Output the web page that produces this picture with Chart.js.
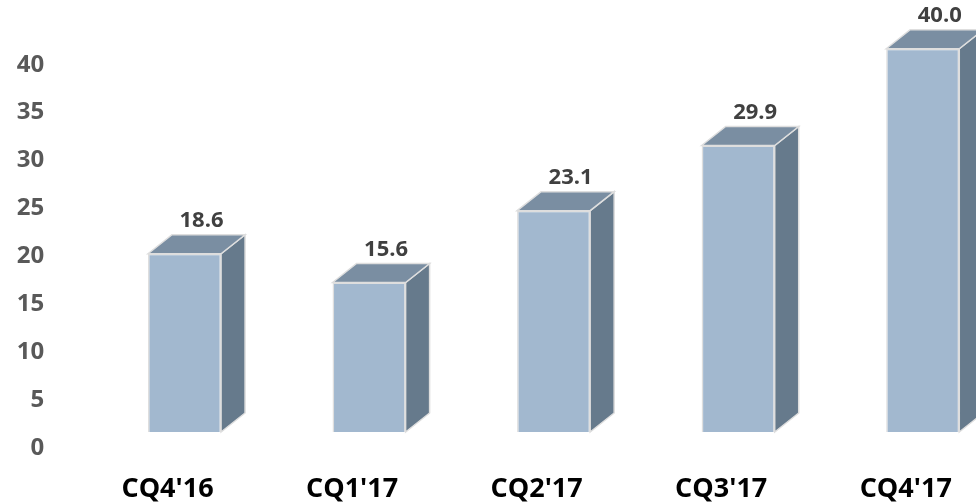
<!DOCTYPE html>
<html>
<head>
<meta charset="utf-8">
<script src="https://cdn.jsdelivr.net/npm/chart.js@4/dist/chart.umd.min.js"></script>
<style>
  html, body { margin: 0; padding: 0; background: #fff; overflow: hidden; }
  #wrap { width: 976px; height: 503px; overflow: hidden; }
</style>
</head>
<body>
<div id="wrap">
  <canvas id="chart" width="1016" height="503"></canvas>
</div>
<script>
// 四半期ごとの値
const quarters = ["CQ4'16", "CQ1'17", "CQ2'17", "CQ3'17", "CQ4'17"];
const values = [18.6, 15.6, 23.1, 29.9, 40.0];
const yTicks = [0, 5, 10, 15, 20, 25, 30, 35, 40];

// 立体の奥行き
const DEPTH_X = 24;
const DEPTH_Y = -19;

const FRONT = '#a2b8cf';
const TOP = '#7a8ea2';
const SIDE = '#667a8c';
const EDGE = '#dedede';

// 側面・上面と値ラベルを描く
const box3d = {
    id: 'box3d',
    beforeDatasetsDraw(chart) {
        const ctx = chart.ctx;
        const meta = chart.getDatasetMeta(0);
        ctx.save();
        ctx.lineWidth = 1.5;
        ctx.strokeStyle = EDGE;
        meta.data.forEach(bar => {
            const { x, y, base, width } = bar.getProps(['x', 'y', 'base', 'width'], true);
            const l = x - width / 2;
            const r = x + width / 2;

            // 側面
            ctx.beginPath();
            ctx.moveTo(r, y);
            ctx.lineTo(r + DEPTH_X, y + DEPTH_Y);
            ctx.lineTo(r + DEPTH_X, base + DEPTH_Y);
            ctx.lineTo(r, base);
            ctx.closePath();
            ctx.fillStyle = SIDE;
            ctx.fill();
            ctx.stroke();

            // 上面
            ctx.beginPath();
            ctx.moveTo(l, y);
            ctx.lineTo(l + DEPTH_X, y + DEPTH_Y);
            ctx.lineTo(r + DEPTH_X, y + DEPTH_Y);
            ctx.lineTo(r, y);
            ctx.closePath();
            ctx.fillStyle = TOP;
            ctx.fill();
            ctx.stroke();
        });
        ctx.restore();
    },
    afterDatasetsDraw(chart) {
        const ctx = chart.ctx;
        const meta = chart.getDatasetMeta(0);
        ctx.save();
        ctx.font = 'bold 22px "Open Sans"';
        ctx.fillStyle = '#404040';
        ctx.textAlign = 'center';
        ctx.textBaseline = 'alphabetic';
        meta.data.forEach((bar, i) => {
            const { x, y } = bar.getProps(['x', 'y'], true);
            ctx.fillText(values[i].toFixed(1), x + 17, y + DEPTH_Y - 8);
        });
        ctx.restore();
    }
};

new Chart(document.getElementById('chart'), {
    type: 'bar',
    data: {
        labels: quarters,
        datasets: [{
            data: values,
            backgroundColor: FRONT,
            borderColor: EDGE,
            borderWidth: 1.5,
            categoryPercentage: 1,
            barPercentage: 0.396
        }]
    },
    options: {
        responsive: false,
        animation: false,
        layout: { padding: { top: 20, left: 0, right: 1, bottom: 0 } },
        plugins: {
            legend: { display: false },
            tooltip: { enabled: false }
        },
        scales: {
            x: {
                grid: { display: false },
                border: { display: false },
                ticks: {
                    color: '#000',
                    font: { family: 'Open Sans', size: 27, weight: 'bold', lineHeight: 1 },
                    padding: 36,
                    labelOffset: -17,
                    maxRotation: 0
                },
                afterFit(scale) { scale.height = 71; }
            },
            y: {
                min: 0,
                max: 43,
                grid: { display: false },
                border: { display: false },
                afterBuildTicks(scale) {
                    scale.ticks = yTicks.map(v => ({ value: v }));
                },
                ticks: {
                    color: '#595959',
                    font: { family: 'Open Sans', size: 24, weight: 'bold' },
                    padding: 40,
                    labelOffset: 16
                },
                afterFit(scale) {
                    scale.width = 92.25;
                    // 目盛ラベルの余白がプロット領域を押し下げないようにする
                    scale.paddingTop = 0;
                    scale.paddingBottom = 0;
                }
            }
        }
    },
    plugins: [box3d]
});
</script>
</body>
</html>
